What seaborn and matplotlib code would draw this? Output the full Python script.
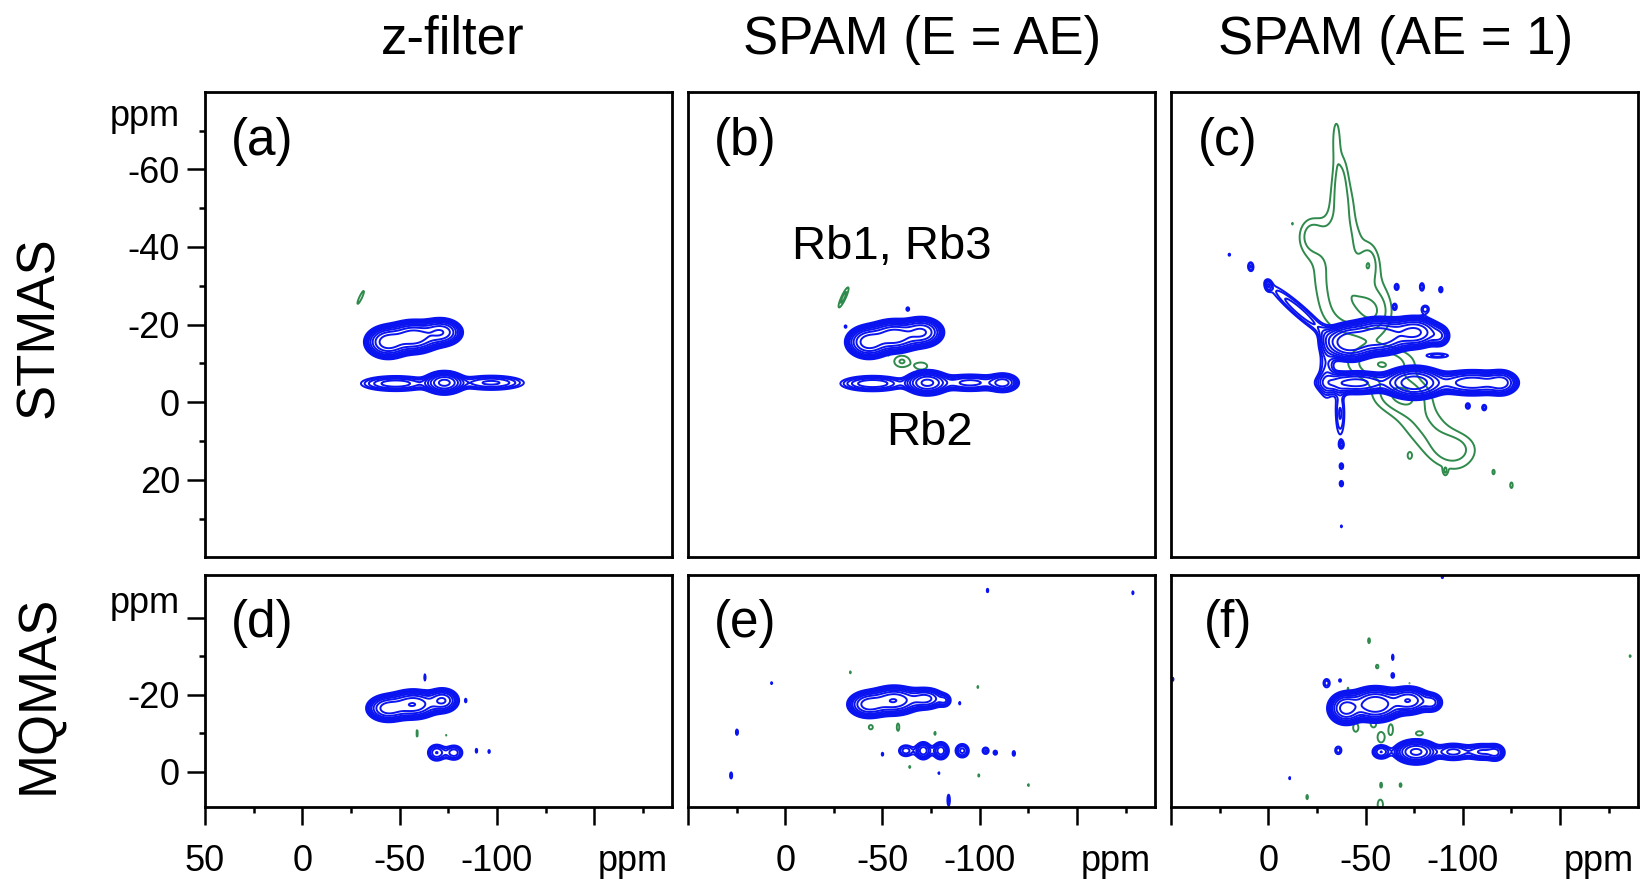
import numpy as np
import matplotlib
matplotlib.use("Agg")
import matplotlib.pyplot as plt
import seaborn as sns


# axis ranges (ppm), both axes run "backwards" like an NMR plot
x_lim = (50, -190)
top_y_lim = (40, -80)
bot_y_lim = (9, -51)

col_titles = ["z-filter", "SPAM (E = AE)", "SPAM (AE = 1)"]
row_titles = ["STMAS", "MQMAS"]
panel_tags = ["(a)", "(b)", "(c)", "(d)", "(e)", "(f)"]

x_major = [50, 0, -50, -100, -150]
x_minor = [25, -25, -75, -125, -175]
x_labels_first = ["50", "0", "-50", "-100", ""]
x_labels_other = ["", "0", "-50", "-100", ""]

top_y_major = [-60, -40, -20, 0, 20]
top_y_minor = [-70, -50, -30, -10, 10, 30]
top_y_labels = ["-60", "-40", "-20", "0", "20"]
bot_y_major = [-40, -20, 0]
bot_y_minor = [-30, -10]
bot_y_labels = ["", "-20", "0"]

# peaks: (x ppm, y ppm, width x, width y, height, tilt deg)
a_blue = [
    (-44, -15.5, 5.0, 1.8, 0.85, 0),
    (-57, -16.8, 6.0, 1.8, 0.90, 0),
    (-71, -18.0, 5.0, 1.6, 0.60, 0),
    (-48, -4.8, 11.0, 1.2, 0.15, 0),
    (-73, -5.0, 4.5, 1.3, 0.70, 0),
    (-97, -5.0, 11.0, 1.2, 0.13, 0),
]
a_green = [
    (-30, -27, 2.6, 0.6, 0.06, 45),
]

b_blue = [
    (-43, -15.5, 5.0, 1.8, 0.85, 0),
    (-56, -17.0, 6.0, 1.8, 0.90, 0),
    (-70, -18.0, 5.0, 1.7, 0.65, 0),
    (-63, -24.0, 0.8, 0.5, 0.06, 0),
    (-31, -19.5, 0.6, 0.4, 0.05, 0),
    (-45, -4.8, 10.0, 1.2, 0.16, 0),
    (-73, -5.0, 5.0, 1.4, 0.70, 0),
    (-95, -5.0, 9.0, 1.2, 0.20, 0),
    (-112, -5.0, 4.0, 1.2, 0.30, 0),
]
b_green = [
    (-30, -27, 2.8, 0.7, 0.09, 45),
    (-60, -10.5, 3.5, 1.3, 0.075, 0),
    (-70, -9.3, 3.0, 0.9, 0.065, 0),
    (-53, -12.5, 0.8, 0.6, 0.05, 0),
]

c_blue = [
    (-42, -15.5, 6.0, 2.0, 1.00, 0),
    (-57, -17.0, 7.0, 2.0, 1.00, 0),
    (-75, -18.0, 6.0, 1.8, 0.70, 0),
    (-88, -17.0, 3.0, 1.5, 0.15, 0),
    (-87, -12.0, 6.0, 0.6, 0.06, 0),
    (-45, -5.0, 10.0, 1.5, 0.30, 0),
    (-75, -5.0, 7.0, 1.8, 0.90, 0),
    (-105, -5.0, 10.0, 1.6, 0.35, 0),
    (-120, -5.0, 4.0, 1.6, 0.25, 0),
    (20, -38, 0.6, 0.4, 0.05, 0),
    (9, -35, 1.2, 1.0, 0.06, 0),
    (0, -30, 1.2, 1.0, 0.06, 0),
    (-16, -23.5, 14.0, 1.6, 0.08, -23),
    (-30, -8, 3.0, 6.0, 0.07, 0),
    (-37, 3, 2.0, 5.0, 0.07, 0),
    (-37.6, 11, 1.0, 0.8, 0.06, 0),
    (-37.6, 16.5, 1.0, 0.8, 0.06, 0),
    (-37.6, 21, 1.0, 0.8, 0.06, 0),
    (-37.6, 32, 0.5, 0.4, 0.05, 0),
    (-66, -29.7, 1.2, 0.9, 0.06, 0),
    (-79, -29.7, 1.2, 1.1, 0.06, 0),
    (-88.7, -29, 1.0, 0.8, 0.06, 0),
    (-65, -24.6, 1.2, 0.9, 0.06, 0),
    (-80.7, -24, 2.0, 1.0, 0.06, 0),
    (-102.6, 1, 1.2, 0.8, 0.06, 0),
    (-111, 1.4, 1.2, 0.8, 0.06, 0),
]
c_green = [
    (-35, -68, 1.5, 4.0, 0.06, 0),
    (-37, -58, 3.0, 5.0, 0.07, 0),
    (-38, -50, 5.0, 5.0, 0.07, 0),
    (-22, -43, 4.0, 3.0, 0.06, 0),
    (-33, -42, 10.0, 4.0, 0.075, 0),
    (-40, -33, 12.0, 5.0, 0.08, 0),
    (-52, -36, 3.0, 3.0, 0.06, 0),
    (-42, -24, 11.0, 5.0, 0.08, 0),
    (-55, -23, 6.0, 4.0, 0.07, 0),
    (-58, -10, 12.0, 3.0, 0.10, 0),
    (-68, -2, 10.0, 3.0, 0.08, 0),
    (-80, 6, 15.0, 5.0, 0.075, -25),
    (-97, 12, 8.0, 3.0, 0.06, 0),
    (-72.7, 13.8, 1.0, 0.8, 0.055, 0),
    (-91, 17.7, 0.8, 0.8, 0.055, 0),
    (-115.8, 18, 0.6, 0.6, 0.06, 0),
    (-125, 21.4, 0.8, 0.9, 0.055, 0),
    (-12.4, -46, 0.3, 0.3, 0.045, 0),
]

d_blue = [
    (-44, -16.5, 5.0, 1.6, 0.50, 0),
    (-57, -17.5, 6.0, 1.7, 0.60, 0),
    (-72, -18.5, 4.0, 1.5, 0.40, 0),
    (-63, -24.5, 0.5, 1.2, 0.05, 0),
    (-84, -18.5, 0.5, 0.6, 0.05, 0),
    (-69, -5.0, 3.0, 1.4, 0.12, 0),
    (-78, -5.0, 3.0, 1.3, 0.11, 0),
    (-89.5, -5.5, 0.6, 0.8, 0.05, 0),
    (-96, -5.3, 0.6, 0.6, 0.05, 0),
]
d_green = [
    (-59, -10, 0.4, 1.5, 0.05, 0),
    (-70, -11, 0.3, 0.3, 0.045, 0),
    (-74, -9.5, 0.3, 0.3, 0.045, 0),
    (-52.5, -13, 0.3, 0.3, 0.045, 0),
]

e_blue = [
    (-43, -17.5, 5.0, 1.6, 0.50, 0),
    (-56, -18.5, 6.0, 1.7, 0.60, 0),
    (-72, -19.0, 5.0, 1.4, 0.30, 0),
    (-82, -18.5, 2.0, 1.0, 0.10, 0),
    (-89.7, -17.8, 0.5, 0.5, 0.05, 0),
    (-62, -5.5, 3.0, 1.2, 0.08, 0),
    (-71, -5.5, 2.5, 1.4, 0.15, 0),
    (-80, -5.5, 2.5, 1.4, 0.15, 0),
    (-91, -5.5, 2.5, 1.3, 0.10, 0),
    (-103, -5.5, 1.5, 0.8, 0.07, 0),
    (-108, -5.0, 1.0, 0.6, 0.06, 0),
    (-117.5, -4.8, 0.7, 0.7, 0.06, 0),
    (-50, -4.6, 0.5, 0.5, 0.055, 0),
    (7, -23, 0.5, 0.4, 0.05, 0),
    (24.8, -10.3, 0.6, 0.8, 0.06, 0),
    (27.8, 0.9, 0.6, 0.9, 0.06, 0),
    (-104, -47, 0.6, 0.7, 0.05, 0),
    (-84, 7.3, 0.7, 1.6, 0.06, 0),
    (-79, 0.3, 0.4, 0.4, 0.05, 0),
    (-178.7, -46.4, 0.5, 0.6, 0.05, 0),
]
e_green = [
    (-33.5, -25.8, 0.4, 0.4, 0.05, 0),
    (-44, -11.6, 1.3, 0.7, 0.055, 0),
    (-58, -11.6, 0.8, 1.2, 0.055, 0),
    (-77, -10, 0.5, 0.6, 0.05, 0),
    (-99, -22, 0.4, 0.4, 0.05, 0),
    (-64, -1.3, 0.5, 0.4, 0.05, 0),
    (-99.5, 0.9, 0.4, 0.5, 0.05, 0),
    (-125, 3.4, 0.4, 0.4, 0.05, 0),
]

f_blue = [
    (-40, -16.5, 4.0, 1.8, 0.80, 0),
    (-55, -17.5, 6.0, 1.9, 1.00, 0),
    (-72, -18.5, 5.0, 1.6, 0.60, 0),
    (-84, -18.0, 3.0, 1.3, 0.20, 0),
    (-58, -5.2, 3.0, 1.2, 0.12, 0),
    (-76, -5.2, 5.0, 1.4, 0.70, 0),
    (-95, -5.2, 5.0, 1.2, 0.20, 0),
    (-110, -5.2, 5.0, 1.2, 0.18, 0),
    (-117, -5.0, 2.5, 1.2, 0.15, 0),
    (-30, -23, 1.8, 1.2, 0.06, 0),
    (-36.9, -23.7, 0.8, 0.5, 0.05, 0),
    (-36, -5.6, 1.8, 1.1, 0.06, 0),
    (-64, -29.7, 0.5, 0.9, 0.055, 0),
    (-64, -25, 0.8, 0.7, 0.06, 0),
    (-13, -15.7, 0.3, 0.3, 0.045, 0),
    (-11, 1.6, 0.4, 0.5, 0.05, 0),
    (49, -24, 0.5, 0.6, 0.05, 0),
    (-89.5, -50.5, 0.6, 0.5, 0.05, 0),
]
f_green = [
    (-51.8, -34, 0.6, 0.8, 0.055, 0),
    (-56, -27.3, 0.8, 0.6, 0.055, 0),
    (-72.7, -23, 0.3, 0.4, 0.045, 0),
    (-41, -21.5, 0.4, 0.5, 0.05, 0),
    (-45, -11.5, 1.5, 1.2, 0.06, 0),
    (-54, -12.5, 1.5, 1.0, 0.06, 0),
    (-58, -9, 2.0, 1.5, 0.06, 0),
    (-63, -11, 1.2, 1.5, 0.06, 0),
    (-77.7, -10, 2.0, 0.6, 0.06, 0),
    (-58, 3.4, 0.6, 0.8, 0.055, 0),
    (-68, 3.4, 0.6, 0.6, 0.055, 0),
    (-20, 6.5, 0.5, 0.7, 0.055, 0),
    (-57.6, 8.5, 1.5, 1.5, 0.06, 0),
    (-186, -30, 0.4, 0.4, 0.05, 0),
]

blue_levels = [0.04, 0.052, 0.068, 0.09, 0.12, 0.17, 0.25, 0.38, 0.6]
green_levels = [0.04, 0.07, 0.11]

blue = "#0a14f0"
green = "#2f8a4c"


def peak_map(xg, yg, peaks):
    z = np.zeros_like(xg)
    for x0, y0, sx, sy, amp, tilt in peaks:
        t = np.deg2rad(tilt)
        dx = xg - x0
        dy = yg - y0
        u = dx * np.cos(t) + dy * np.sin(t)
        v = -dx * np.sin(t) + dy * np.cos(t)
        z += amp * np.exp(-0.5 * (u / sx) ** 2 - 0.5 * (v / sy) ** 2)
    return z


# style
sns.set_theme(style="ticks")
plt.rcParams["font.family"] = ["Liberation Sans", "DejaVu Sans"]
plt.rcParams["axes.unicode_minus"] = False
plt.rcParams["text.color"] = "black"
plt.rcParams["xtick.color"] = "black"
plt.rcParams["ytick.color"] = "black"

fig = plt.figure(figsize=(16.43, 8.81), dpi=100)

lefts = [0.1248, 0.4187, 0.7127]
width = 0.2842
rows = [(0.3673, 0.5286), (0.0843, 0.2630)]

panels = [
    (a_blue, a_green), (b_blue, b_green), (c_blue, c_green),
    (d_blue, d_green), (e_blue, e_green), (f_blue, f_green),
]

xs = np.linspace(-190, 50, 700)
tick_len = 13
tick_fs = 26
x_pad = 14

for i, (blue_peaks, green_peaks) in enumerate(panels):
    r, c = divmod(i, 3)
    bottom, height = rows[r]
    ax = fig.add_axes([lefts[c], bottom, width, height])
    ylim = top_y_lim if r == 0 else bot_y_lim
    ys = np.linspace(min(ylim), max(ylim), 500 if r == 0 else 260)
    xg, yg = np.meshgrid(xs, ys)

    ax.contour(xg, yg, peak_map(xg, yg, green_peaks), levels=green_levels,
               colors=green, linewidths=1.4)
    ax.contour(xg, yg, peak_map(xg, yg, blue_peaks), levels=blue_levels,
               colors=blue, linewidths=1.4)

    ax.set_xlim(*x_lim)
    ax.set_ylim(*ylim)
    for s in ax.spines.values():
        s.set_color("black")
        s.set_linewidth(2.0)

    ax.tick_params(which="both", direction="out", color="black", width=1.8,
                   labelsize=tick_fs, labelcolor="black")
    ax.tick_params(which="major", length=tick_len)
    ax.tick_params(which="minor", length=4.5)
    ax.tick_params(axis="x", pad=x_pad)
    ax.tick_params(axis="y", pad=5)

    if r == 1:
        ax.set_xticks(x_major)
        ax.set_xticks(x_minor, minor=True)
        ax.set_xticklabels(x_labels_first if c == 0 else x_labels_other)
        ax.tick_params(axis="x", which="both", bottom=True)
        ax.annotate("ppm", xy=(-170, 0), xycoords=("data", "axes fraction"),
                    xytext=(0, -(tick_len + x_pad)), textcoords="offset points",
                    ha="center", va="top", fontsize=tick_fs)
    else:
        ax.set_xticks([])
        ax.tick_params(axis="x", which="both", bottom=False, labelbottom=False)

    if c == 0:
        if r == 0:
            ax.set_yticks(top_y_major)
            ax.set_yticks(top_y_minor, minor=True)
            ax.set_yticklabels(top_y_labels)
            ppm_y = -73.7
        else:
            ax.set_yticks(bot_y_major)
            ax.set_yticks(bot_y_minor, minor=True)
            ax.set_yticklabels(bot_y_labels)
            ppm_y = -43.6
        ax.tick_params(axis="y", which="both", left=True)
        ax.annotate("ppm", xy=(0, ppm_y), xycoords=("axes fraction", "data"),
                    xytext=(-(tick_len + 5), 0), textcoords="offset points",
                    ha="right", va="center", fontsize=tick_fs)
    else:
        ax.set_yticks([])
        ax.tick_params(axis="y", which="both", left=False, labelleft=False)

    tag_y = 0.893 if r == 0 else 0.79
    ax.text(0.122, tag_y, panel_tags[i], transform=ax.transAxes,
            ha="center", va="center", fontsize=37)

    if i == 1:
        ax.text(-55, -40, "Rb1, Rb3", ha="center", va="center", fontsize=34)
        ax.text(-74, 8, "Rb2", ha="center", va="center", fontsize=34)

# column and row headings
title_x = [453 / 1643, 922 / 1643, 1396 / 1643]
for tx, t in zip(title_x, col_titles):
    fig.text(tx, 0.955, t, ha="center", va="center", fontsize=38)

fig.text(0.024, 0.629, row_titles[0], rotation=90, ha="center", va="center", fontsize=38)
fig.text(0.024, 0.212, row_titles[1], rotation=90, ha="center", va="center", fontsize=38)

fig.savefig("out.png", dpi=100)
